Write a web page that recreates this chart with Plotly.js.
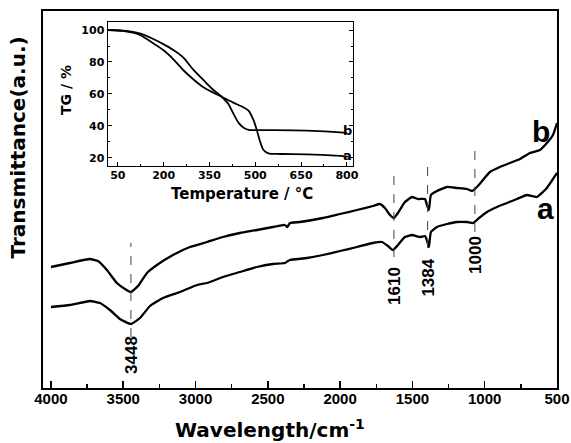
<!DOCTYPE html>
<html>
<head>
<meta charset="utf-8">
<script src="https://cdn.plot.ly/plotly-3.0.1.min.js"></script>
<style>html,body{margin:0;padding:0;background:#fff;}#chart{width:571px;height:443px;}</style>
</head>
<body>
<div id="chart"></div>
<script>
// FT-IR spectra (wavenumber in cm-1, transmittance in arbitrary units)
const wnA = [4000,3869,3730,3661,3592,3523,3447,3384,3315,3225,3108,2990,2921,2810,2693,2575,2465,2382,2361,2347,2229,2119,2001,1884,1773,1711,1669,1635,1600,1552,1503,1448,1413,1400,1386,1372,1330,1261,1192,1123,1081,1047,985,915,846,777,708,639,570,500];
const trA = [81,83,87,85,78,69,64,70,82,90,96,103,105,111,116,121,124,125,127,128,130,133,137,141,145,146,142,138,143,151,153,151,152,148,141,156,161,164,166,166,165,169,176,181,185,189,193,191,200,215];
const wnB = [4000,3869,3730,3675,3613,3544,3488,3447,3398,3336,3267,3156,3039,2921,2810,2693,2575,2465,2382,2365,2347,2278,2119,2001,1884,1773,1725,1690,1655,1628,1600,1552,1503,1462,1413,1400,1386,1372,1330,1261,1192,1123,1088,1054,1012,964,895,826,756,687,618,570,528,500];
const trB = [121,125,129,127,118,105,99,96,102,115,123,133,141,146,151,155,158,161,163,161,165,166,170,174,178,182,184,180,173,170,175,186,191,189,189,183,178,193,197,201,200,199,197,201,208,216,221,225,229,235,238,245,253,265];

// TG curves (inset)
const tempA = [18,67,122,166,199,232,264,297,330,363,390,428,461,478,494,505,516,527,543,582,669,779,800];
const tgA = [100,99.4,96.9,91.7,87.5,81.7,75,69.2,64.2,60.8,58.3,54.6,51.7,49.6,43.8,37.5,30.2,25,22.9,22.5,22.3,21.3,21];
const tempB = [18,67,122,166,199,232,264,297,330,363,390,412,428,445,461,478,505,560,669,779,800];
const tgB = [100,99.6,97.9,94.4,91.2,87.5,82.9,75.2,68.8,62.5,58.3,53.8,47.9,42.1,39,37.5,37.4,37.4,37.1,36.0,35.6];

// Peak markers
const peakLabels = ['3448','1610','1384','1000'];
const peakPos = [3447,1628,1395,1068];
const peakTop = [145,218,230,245];
const peakBottom = [51,131,140,156];

// Axis ticks
const mainTicks = [4000,3500,3000,2500,2000,1500,1000,500];
const insetXTicks = [50,200,350,500,650,800];
const insetYTicks = [20,40,60,80,100];

const bold = v => '<b>' + v + '</b>';
const irLine = {color:'#000', width:2.3, shape:'spline', smoothing:0.4};
const tgLine = {color:'#000', width:1.8, shape:'spline', smoothing:0.8};

const traces = [
  {x: wnA, y: trA, mode:'lines', line: irLine, xaxis:'x', yaxis:'y', hoverinfo:'skip'},
  {x: wnB, y: trB, mode:'lines', line: irLine, xaxis:'x', yaxis:'y', hoverinfo:'skip'},
  {x: tempA, y: tgA, mode:'lines', line: tgLine, xaxis:'x2', yaxis:'y2', hoverinfo:'skip'},
  {x: tempB, y: tgB, mode:'lines', line: tgLine, xaxis:'x2', yaxis:'y2', hoverinfo:'skip'}
];

const shapes = peakPos.map((p,i)=>({type:'line', xref:'x', yref:'y', x0:p, x1:p, y0:peakBottom[i], y1:peakTop[i],
  line:{color:'#444', width:1, dash:'dash'}}));

const annotations = [];
const peakLabelY = [33,102,110,133];
peakLabels.forEach((t,i)=>annotations.push({xref:'x', yref:'y', x:peakPos[i], y:peakLabelY[i], text:bold(t), showarrow:false,
  textangle:-90, font:{family:'Liberation Sans, Arial', size:17, color:'#000'}, xanchor:'center', yanchor:'middle'}));
annotations.push({xref:'x', yref:'y', x:611, y:257, text:bold('b'), showarrow:false, font:{family:'Liberation Sans, Arial', size:30, color:'#000'}});
annotations.push({xref:'x', yref:'y', x:583, y:180, text:bold('a'), showarrow:false, font:{family:'Liberation Sans, Arial', size:30, color:'#000'}});
annotations.push({xref:'x2', yref:'y2', x:802, y:36.9, text:bold('b'), showarrow:false, font:{family:'DejaVu Sans', size:13, color:'#000'}});
annotations.push({xref:'x2', yref:'y2', x:802, y:21.3, text:bold('a'), showarrow:false, font:{family:'DejaVu Sans', size:13, color:'#000'}});
// axis titles
annotations.push({xref:'paper', yref:'paper', x:-0.0496, y:0.6366, text:bold('Transmittance(a.u.)'), showarrow:false, textangle:-90,
  font:{family:'DejaVu Sans', size:20, color:'#000'}, xanchor:'center', yanchor:'middle'});
annotations.push({xref:'paper', yref:'paper', x:0.4416, y:-0.1088, text:bold('Wavelength/cm<sup>-1</sup>'), showarrow:false,
  font:{family:'DejaVu Sans', size:20, color:'#000'}, xanchor:'center', yanchor:'middle'});
annotations.push({xref:'paper', yref:'paper', x:0.387, y:0.514, text:bold('Temperature / °C'), showarrow:false,
  font:{family:'DejaVu Sans', size:15, color:'#000'}, xanchor:'center', yanchor:'middle'});
annotations.push({xref:'paper', yref:'paper', x:0.0447, y:0.7905, text:bold('TG / %'), showarrow:false, textangle:-90,
  font:{family:'DejaVu Sans', size:14, color:'#000'}, xanchor:'center', yanchor:'middle'});

const layout = {
  width:571, height:443,
  margin:{l:43, r:14, t:11, b:55},
  paper_bgcolor:'#fff', plot_bgcolor:'rgba(0,0,0,0)',
  showlegend:false,
  xaxis:{range:[4055,500], tickvals:mainTicks, ticktext:mainTicks.map(bold), ticks:'inside', ticklen:7, tickwidth:1.5, tickcolor:'#000',
    minor:{dtick:250, tick0:500, ticks:'inside', ticklen:4, tickwidth:1.5, tickcolor:'#000'},
    showline:true, linewidth:2, linecolor:'#000', mirror:true, showgrid:false, zeroline:false, ticklabelstandoff:-4,
    tickfont:{family:'Liberation Sans, Arial', size:15, color:'#000'}, domain:[0,1]},
  yaxis:{range:[0,377], showticklabels:false, ticks:'', showline:true, linewidth:2, linecolor:'#000', mirror:true,
    showgrid:false, zeroline:false, domain:[0,1]},
  xaxis2:{anchor:'y2', domain:[0.1265,0.6031], range:[18,820], tickvals:insetXTicks, ticktext:insetXTicks.map(bold), ticks:'inside', ticklen:4, tickwidth:1, tickcolor:'#000',
    minor:{dtick:75, tick0:50, ticks:'inside', ticklen:2, tickwidth:1, tickcolor:'#000'}, ticklabelstandoff:-2,
    showline:true, linewidth:1.5, linecolor:'#000', mirror:true, showgrid:false, zeroline:false,
    tickfont:{family:'DejaVu Sans', size:11, color:'#000'}},
  yaxis2:{anchor:'x2', domain:[0.5889,0.9708], range:[15,105], tickvals:insetYTicks, ticktext:insetYTicks.map(bold), ticks:'inside', ticklen:4, tickwidth:1, tickcolor:'#000',
    minor:{dtick:10, tick0:20, ticks:'inside', ticklen:2, tickwidth:1, tickcolor:'#000'},
    showline:true, linewidth:1.5, linecolor:'#000', mirror:'ticks', showgrid:false, zeroline:false,
    tickfont:{family:'DejaVu Sans', size:11, color:'#000'}},
  shapes: shapes,
  annotations: annotations
};

Plotly.newPlot('chart', traces, layout, {staticPlot:true, displayModeBar:false});
</script>
</body>
</html>
